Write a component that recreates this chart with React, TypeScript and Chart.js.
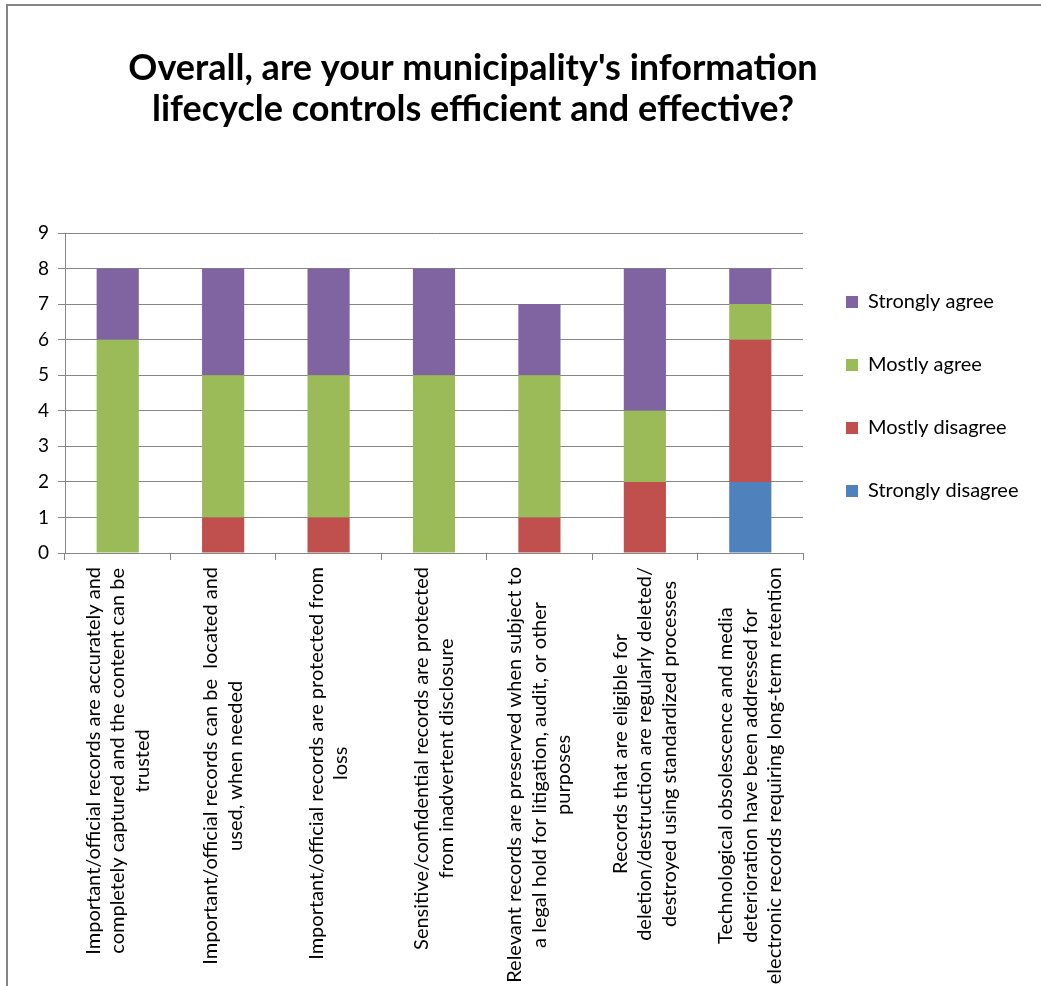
import React, { useEffect, useRef } from "react";
import { Chart, registerables } from "chart.js";

Chart.register(...registerables);

// ---------- data ----------
const categoryLabels: string[][] = [
  ["Important/official records are accurately and", "completely captured and the content can be", "trusted"],
  ["Important/official records can be  located and", "used, when needed"],
  ["Important/official records are protected from", "loss"],
  ["Sensitive/confidential records are protected", "from inadvertent disclosure"],
  ["Relevant records are preserved when subject to", "a legal hold for litigation, audit, or other", "purposes"],
  ["Records that are eligible for", "deletion/destruction are regularly deleted/", "destroyed using standardized processes"],
  ["Technological obsolescence and media", "deterioration have been addressed for", "electronic records requiring long-term retention"],
];

const seriesNames = ["Strongly disagree", "Mostly disagree", "Mostly agree", "Strongly agree"];
const stronglyDisagree = [0, 0, 0, 0, 0, 0, 2];
const mostlyDisagree = [0, 1, 1, 0, 1, 2, 4];
const mostlyAgree = [6, 4, 4, 5, 4, 2, 1];
const stronglyAgree = [2, 3, 3, 3, 2, 4, 1];
const seriesColors = ["#4F81BD", "#C0504D", "#9BBB59", "#8064A2"];

const yMin = 0;
const yMax = 9;
const yStep = 1;

const titleLines = [
  "Overall, are your municipality's information",
  "lifecycle controls efficient and effective?",
];

// ---------- layout / style ----------
const W = 1033;
const H = 980;
const FONT = "Lato, 'Open Sans', sans-serif";
const PLOT_LEFT = 57;
const PLOT_RIGHT = 795;
const PLOT_TOP = 227;
const X_AXIS_H = 7;
const PLOT_BOTTOM = 547;
const LEG_FONT = 20;
const LEG_PAD = 43;
const LEG_BOX = 12;
const LABEL_FONT = 20;
const LABEL_LINE = 24.5;
const TITLE_FONT = 36;
const TITLE_X = 465;
const TITLE_Y = 62;
const TITLE_LINE = 41;
const GRID = "#868686";

const textPlugin = {
  id: "customText",
  afterDraw(chart: any) {
    const ctx: CanvasRenderingContext2D = chart.ctx;
    ctx.save();
    ctx.fillStyle = "#000";
    ctx.textAlign = "center";
    ctx.textBaseline = "middle";
    ctx.font = `bold ${TITLE_FONT}px ${FONT}`;
    titleLines.forEach((l, i) => ctx.fillText(l, TITLE_X, TITLE_Y + i * TITLE_LINE));

    const xs = chart.scales.x;
    ctx.font = `${LABEL_FONT}px ${FONT}`;
    const top = xs.bottom + 7;
    categoryLabels.forEach((lines, i) => {
      const cx = xs.getPixelForValue(i);
      const maxW = Math.max(...lines.map((l) => ctx.measureText(l).width));
      const yc = top + maxW / 2;
      lines.forEach((l, j) => {
        const lx = cx + (j - (lines.length - 1) / 2) * LABEL_LINE;
        ctx.save();
        ctx.translate(lx, yc);
        ctx.rotate(-Math.PI / 2);
        ctx.fillText(l, 0, 0);
        ctx.restore();
      });
    });
    ctx.restore();
  },
};

export default function App() {
  const ref = useRef<HTMLCanvasElement | null>(null);

  useEffect(() => {
    const canvas = ref.current;
    if (!canvas) return;

    const m = document.createElement("canvas").getContext("2d")!;
    m.font = `${LEG_FONT}px ${FONT}`;
    const maxText = Math.max(...seriesNames.map((n) => m.measureText(n).width));
    // Chart.js vertical legend width = padding + box + fontSize/2 + text + 10
    const legendWidth = LEG_PAD + LEG_BOX + LEG_FONT / 2 + maxText + 10;
    const padRight = W - PLOT_RIGHT - legendWidth;

    const values = [stronglyDisagree, mostlyDisagree, mostlyAgree, stronglyAgree];

    const chart = new Chart(canvas, {
      type: "bar",
      data: {
        labels: categoryLabels,
        datasets: seriesNames.map((name, i) => ({
          label: name,
          data: values[i],
          backgroundColor: seriesColors[i],
          borderWidth: 0,
          barPercentage: 0.4,
          categoryPercentage: 1,
        })),
      },
      options: {
        responsive: false,
        animation: false,
        devicePixelRatio: 1,
        layout: {
          padding: {
            left: 0,
            top: PLOT_TOP,
            right: padRight,
            bottom: H - PLOT_BOTTOM - X_AXIS_H,
          },
        },
        plugins: {
          title: { display: false },
          tooltip: { enabled: false },
          legend: {
            display: true,
            position: "right",
            reverse: true,
            labels: {
              boxWidth: LEG_BOX,
              boxHeight: LEG_BOX,
              padding: LEG_PAD,
              color: "#000",
              font: { family: FONT, size: LEG_FONT },
            },
          },
        },
        scales: {
          x: {
            stacked: true,
            afterFit: (s: any) => {
              s.height = X_AXIS_H;
            },
            ticks: { display: false },
            grid: {
              display: true,
              drawOnChartArea: false,
              drawTicks: true,
              offset: true,
              tickLength: 7,
              color: GRID,
              lineWidth: 1,
            },
            border: { display: true, color: GRID, width: 1 },
          },
          y: {
            stacked: true,
            min: yMin,
            max: yMax,
            afterFit: (s: any) => {
              s.width = PLOT_LEFT;
            },
            ticks: {
              stepSize: yStep,
              color: "#000",
              padding: 9,
              font: { family: FONT, size: 19 },
            },
            grid: {
              color: GRID,
              lineWidth: 1,
              tickLength: 7,
              drawTicks: true,
            },
            border: { display: true, color: GRID, width: 1 },
          },
        },
      },
      plugins: [textPlugin],
    });

    return () => chart.destroy();
  }, []);

  return (
    <div
      style={{
        position: "fixed",
        left: 6,
        top: 4,
        width: W + 2,
        height: H + 2,
        boxSizing: "border-box",
        borderLeft: `2px solid ${GRID}`,
        borderTop: `2px solid ${GRID}`,
        background: "#fff",
        overflow: "hidden",
      }}
    >
      <canvas ref={ref} width={W} height={H} style={{ display: "block", width: W, height: H }} />
    </div>
  );
}
